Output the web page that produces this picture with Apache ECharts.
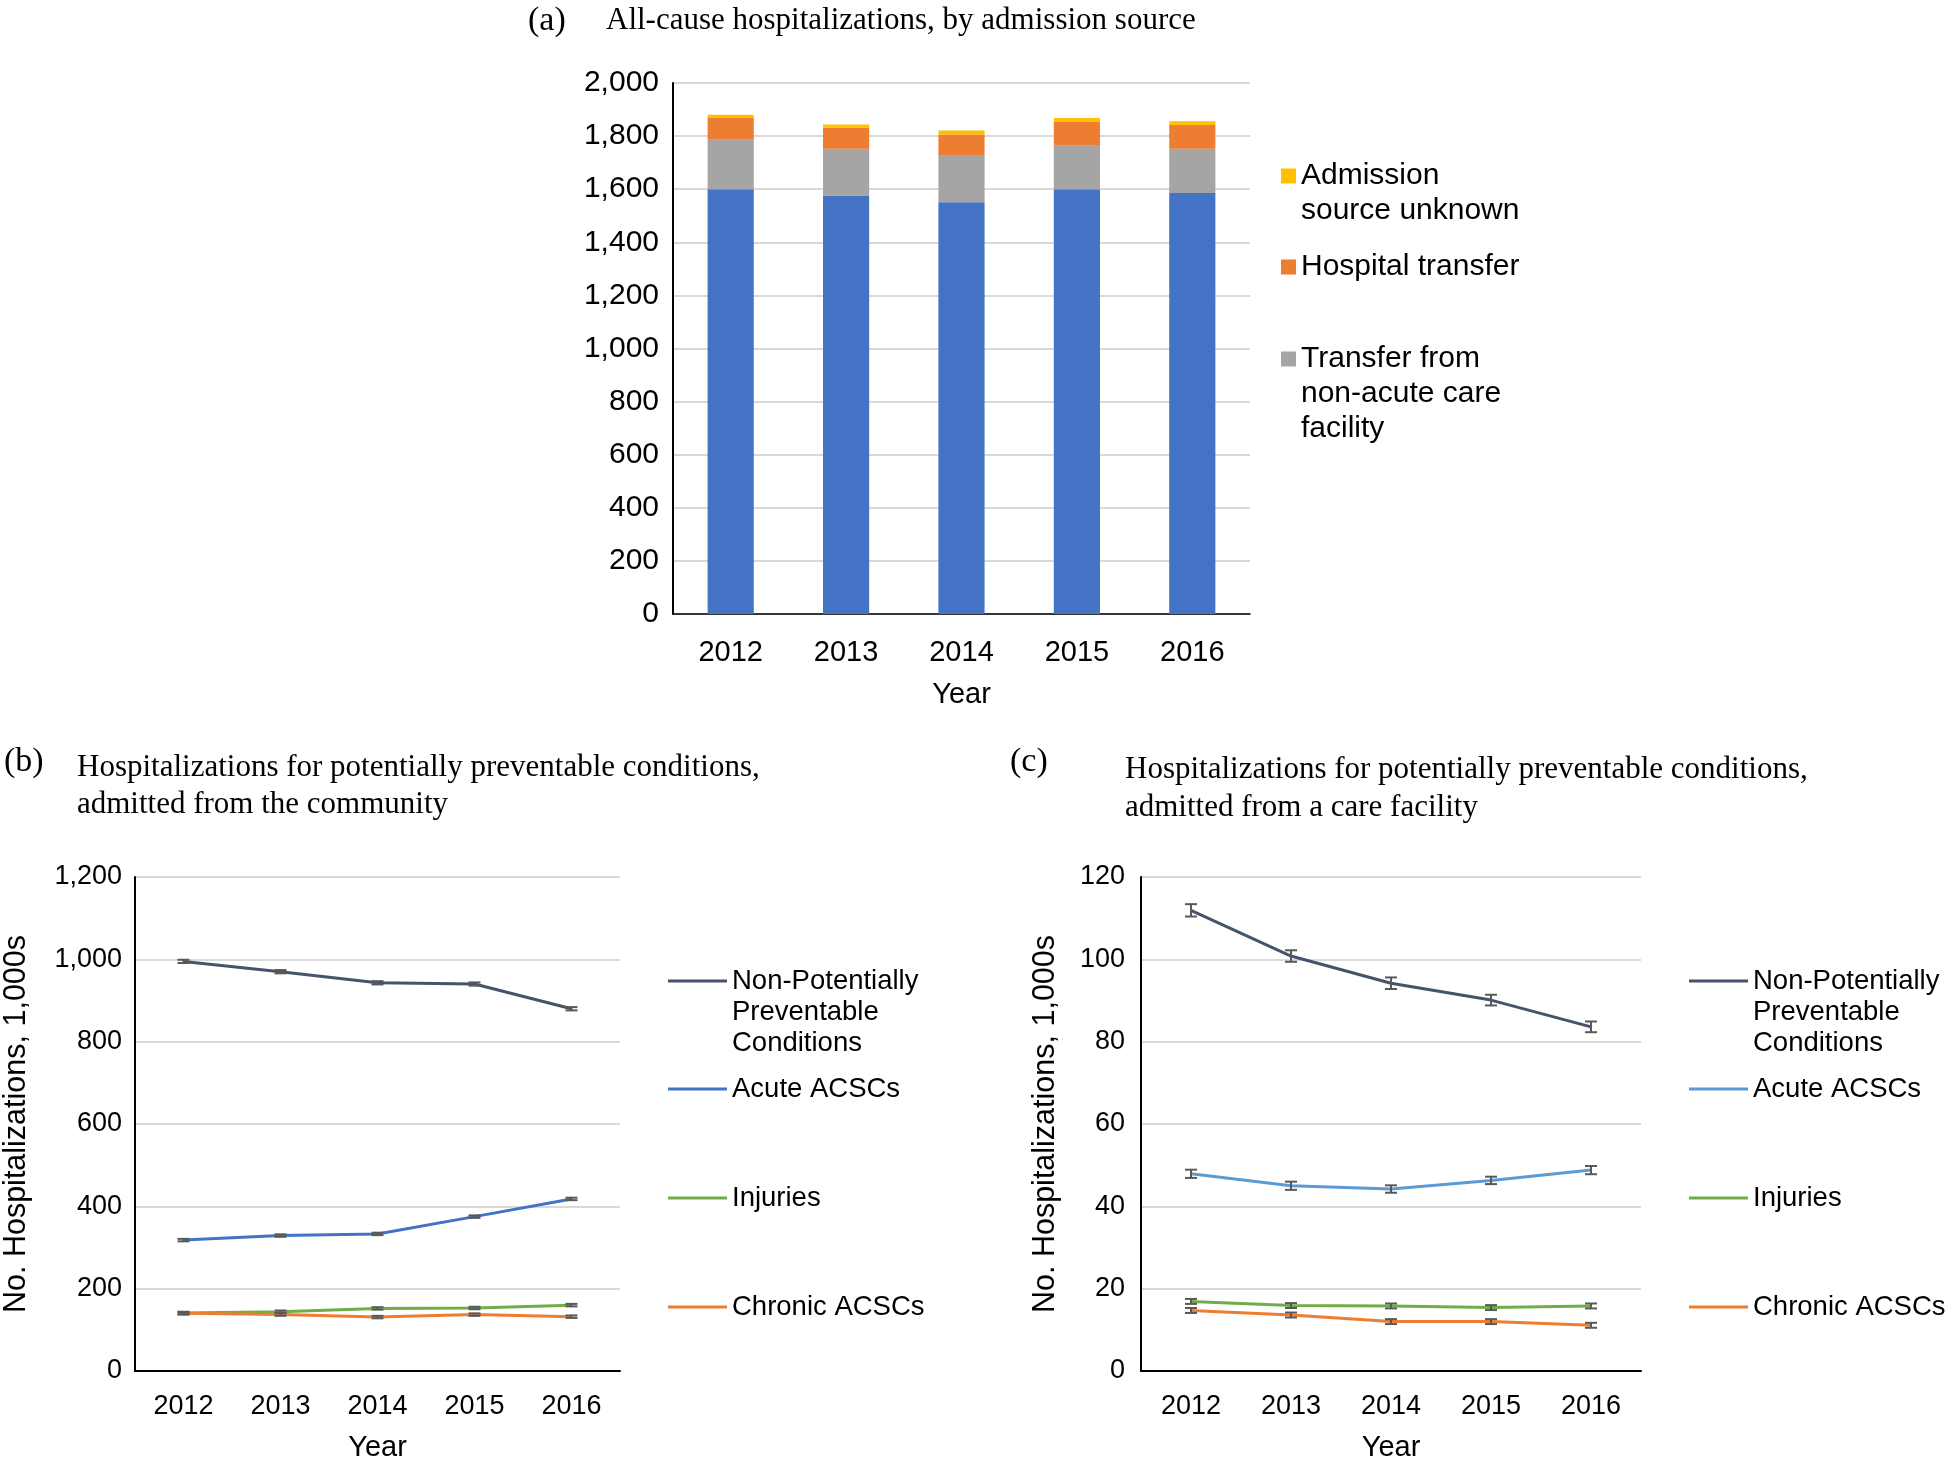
<!DOCTYPE html>
<html>
<head>
<meta charset="utf-8">
<script src="https://cdn.jsdelivr.net/npm/echarts@6/dist/echarts.min.js"></script>
<style>html,body{margin:0;padding:0;background:#fff;}#c{width:1950px;height:1463px;}</style>
</head>
<body>
<div id="c"></div>
<script>
// ---------- data ----------
const years = ['2012', '2013', '2014', '2015', '2016'];

// Panel (a): all-cause hospitalizations by admission source (1,000s)
const aCommunity = [1600, 1576, 1551, 1600, 1586];
const aNonAcute = [186, 176, 178, 164, 166];
const aHospTransfer = [82, 80, 77, 91, 90];
const aUnknown = [12, 12, 15, 13, 14];

// Panel (b): admitted from the community (1,000s)
const bNonPPC = [995, 970, 943, 940, 880];
const bNonPPCErr = [4, 4, 4, 4, 4];
const bAcute = [318, 329, 333, 375, 418];
const bAcuteErr = [3, 3, 3, 3, 3];
const bInjuries = [141, 144, 152, 153, 160];
const bInjuriesErr = [3, 3, 3, 3, 3];
const bChronic = [140, 137, 131, 137, 132];
const bChronicErr = [3, 3, 3, 3, 3];

// Panel (c): admitted from a care facility (1,000s)
const cNonPPC = [111.9, 100.8, 94.2, 90.1, 83.6];
const cNonPPCErr = [1.5, 1.4, 1.4, 1.3, 1.3];
const cAcute = [47.9, 45.0, 44.2, 46.3, 48.8];
const cAcuteErr = [1.0, 1.0, 0.9, 0.9, 1.0];
const cInjuries = [16.9, 15.9, 15.8, 15.4, 15.8];
const cInjuriesErr = [0.6, 0.6, 0.6, 0.6, 0.6];
const cChronic = [14.7, 13.6, 12.0, 12.0, 11.1];
const cChronicErr = [0.6, 0.6, 0.6, 0.6, 0.6];

// ---------- styling ----------
const SANS = 'Liberation Sans, Arial, sans-serif';
const SERIF = 'Liberation Serif, Times New Roman, serif';
const GRID_LINE = '#D9D9D9';
const C_BLUE = '#4472C4', C_GRAY = '#A5A5A5', C_ORANGE = '#ED7D31', C_YELLOW = '#FFC000';
const C_DARK = '#44546A', C_LBLUE = '#5B9BD5', C_GREEN = '#70AD47';
const fmtComma = v => v.toLocaleString('en-US');

function errRender(params, api) {
  const x = api.value(0);
  const p1 = api.coord([x, api.value(1)]);
  const p2 = api.coord([x, api.value(2)]);
  const w = 6;
  const st = { stroke: '#595959', lineWidth: 2 };
  return {
    type: 'group',
    children: [
      { type: 'line', shape: { x1: p1[0], y1: p1[1], x2: p2[0], y2: p2[1] }, style: st },
      { type: 'line', shape: { x1: p1[0] - w, y1: p1[1], x2: p1[0] + w, y2: p1[1] }, style: st },
      { type: 'line', shape: { x1: p2[0] - w, y1: p2[1], x2: p2[0] + w, y2: p2[1] }, style: st }
    ]
  };
}
function errData(v, e) { return v.map((val, i) => [i, val - e[i], val + e[i]]); }

function lineSeries(name, data, color, axisIdx) {
  return {
    name: name, type: 'line', data: data, xAxisIndex: axisIdx, yAxisIndex: axisIdx,
    showSymbol: false, symbol: 'none', z: 3,
    lineStyle: { color: color, width: 3 }, itemStyle: { color: color }
  };
}
function errSeries(v, e, axisIdx) {
  return {
    type: 'custom', renderItem: errRender, data: errData(v, e),
    xAxisIndex: axisIdx, yAxisIndex: axisIdx, encode: { x: 0, y: [1, 2] }, z: 5, silent: true
  };
}
function barSeries(name, data, color) {
  return {
    name: name, type: 'bar', stack: 'a', data: data, xAxisIndex: 0, yAxisIndex: 0,
    barWidth: '40%', itemStyle: { color: color }
  };
}
const stripName = n => n.split('|')[1];

function legendItem(name, left, top, fs, lh, icon, iw, ih) {
  return {
    data: [name], left: left, top: top, orient: 'vertical', padding: 0,
    icon: icon, itemWidth: iw, itemHeight: ih, selectedMode: false,
    formatter: stripName,
    textStyle: { fontFamily: SANS, fontSize: fs, lineHeight: lh, color: '#000' }
  };
}

const chart = echarts.init(document.getElementById('c'), null, { renderer: 'canvas' });
const option = {
  backgroundColor: '#fff',
  animation: false,
  title: [
    { text: '(a)', left: 528, top: 1, padding: 0, textStyle: { fontFamily: SERIF, fontSize: 34, lineHeight: 40, fontWeight: 'normal', color: '#000' } },
    { text: 'All-cause hospitalizations, by admission source', left: 606, top: 2, padding: 0, textStyle: { fontFamily: SERIF, fontSize: 31, lineHeight: 37, fontWeight: 'normal', color: '#000' } },
    { text: '(b)', left: 4, top: 742, padding: 0, textStyle: { fontFamily: SERIF, fontSize: 34, lineHeight: 40, fontWeight: 'normal', color: '#000' } },
    { text: 'Hospitalizations for potentially preventable conditions,\nadmitted from the community', left: 77, top: 749, padding: 0, textStyle: { fontFamily: SERIF, fontSize: 31, lineHeight: 37, fontWeight: 'normal', color: '#000' } },
    { text: '(c)', left: 1010, top: 742, padding: 0, textStyle: { fontFamily: SERIF, fontSize: 34, lineHeight: 40, fontWeight: 'normal', color: '#000' } },
    { text: 'Hospitalizations for potentially preventable conditions,\nadmitted from a care facility', left: 1125, top: 751, padding: 0, textStyle: { fontFamily: SERIF, fontSize: 31, lineHeight: 38, fontWeight: 'normal', color: '#000' } }
  ],
  grid: [
    { left: 673, top: 83, width: 577, height: 531 },
    { left: 134, top: 877, width: 486, height: 495 },
    { left: 1141, top: 877, width: 500, height: 495 }
  ],
  xAxis: [
    {
      gridIndex: 0, type: 'category', data: years, boundaryGap: true,
      name: 'Year', nameLocation: 'middle', nameGap: 66,
      nameTextStyle: { fontFamily: SANS, fontSize: 29, color: '#000' },
      axisLine: { lineStyle: { color: '#000', width: 1.5 } }, axisTick: { show: false },
      axisLabel: { fontFamily: SANS, fontSize: 29, color: '#000', margin: 24 }
    },
    {
      gridIndex: 1, type: 'category', data: years, boundaryGap: true,
      name: 'Year', nameLocation: 'middle', nameGap: 62,
      nameTextStyle: { fontFamily: SANS, fontSize: 29, color: '#000' },
      axisLine: { lineStyle: { color: '#000', width: 2 } }, axisTick: { show: false },
      axisLabel: { fontFamily: SANS, fontSize: 27, color: '#000', margin: 22 }
    },
    {
      gridIndex: 2, type: 'category', data: years, boundaryGap: true,
      name: 'Year', nameLocation: 'middle', nameGap: 62,
      nameTextStyle: { fontFamily: SANS, fontSize: 29, color: '#000' },
      axisLine: { lineStyle: { color: '#000', width: 2 } }, axisTick: { show: false },
      axisLabel: { fontFamily: SANS, fontSize: 27, color: '#000', margin: 22 }
    }
  ],
  yAxis: [
    {
      gridIndex: 0, type: 'value', min: 0, max: 2000, interval: 200,
      axisLine: { show: true, lineStyle: { color: '#000', width: 2 } }, axisTick: { show: false },
      splitLine: { lineStyle: { color: GRID_LINE, width: 2 } },
      axisLabel: { fontFamily: SANS, fontSize: 30, color: '#000', margin: 14, formatter: fmtComma }
    },
    {
      gridIndex: 1, type: 'value', min: 0, max: 1200, interval: 200,
      name: 'No. Hospitalizations, 1,000s', nameLocation: 'middle', nameGap: 103,
      nameTextStyle: { fontFamily: SANS, fontSize: 30.5, color: '#000' },
      axisLine: { show: true, lineStyle: { color: '#000', width: 2 } }, axisTick: { show: false },
      splitLine: { lineStyle: { color: GRID_LINE, width: 2 } },
      axisLabel: { fontFamily: SANS, fontSize: 27, color: '#000', margin: 13, formatter: fmtComma }
    },
    {
      gridIndex: 2, type: 'value', min: 0, max: 120, interval: 20,
      name: 'No. Hospitalizations, 1,000s', nameLocation: 'middle', nameGap: 80,
      nameTextStyle: { fontFamily: SANS, fontSize: 30.5, color: '#000' },
      axisLine: { show: true, lineStyle: { color: '#000', width: 2 } }, axisTick: { show: false },
      splitLine: { lineStyle: { color: GRID_LINE, width: 2 } },
      axisLabel: { fontFamily: SANS, fontSize: 27, color: '#000', margin: 16 }
    }
  ],
  legend: [
    legendItem('a|\nAdmission\nsource unknown', 1281, 123.5, 30, 35, 'rect', 15, 15),
    legendItem('a|Hospital transfer', 1281, 249.5, 30, 35, 'rect', 15, 15),
    legendItem('a|\n\nTransfer from\nnon-acute care\nfacility', 1281, 271.5, 30, 35, 'rect', 15, 15),
    legendItem('b|\n\nNon-Potentially\nPreventable\nConditions', 668, 903.5, 27.5, 31, 'rect', 59, 3),
    legendItem('b|Acute ACSCs', 668, 1073.5, 27.5, 31, 'rect', 59, 3),
    legendItem('b|Injuries', 668, 1182.5, 27.5, 31, 'rect', 59, 3),
    legendItem('b|Chronic ACSCs', 668, 1291.5, 27.5, 31, 'rect', 59, 3),
    legendItem('c|\n\nNon-Potentially\nPreventable\nConditions', 1689, 903.5, 27.5, 31, 'rect', 59, 3),
    legendItem('c|Acute ACSCs', 1689, 1073.5, 27.5, 31, 'rect', 59, 3),
    legendItem('c|Injuries', 1689, 1182.5, 27.5, 31, 'rect', 59, 3),
    legendItem('c|Chronic ACSCs', 1689, 1291.5, 27.5, 31, 'rect', 59, 3)
  ],
  series: [
    barSeries('a|Community', aCommunity, C_BLUE),
    barSeries('a|\n\nTransfer from\nnon-acute care\nfacility', aNonAcute, C_GRAY),
    barSeries('a|Hospital transfer', aHospTransfer, C_ORANGE),
    barSeries('a|\nAdmission\nsource unknown', aUnknown, C_YELLOW),

    lineSeries('b|\n\nNon-Potentially\nPreventable\nConditions', bNonPPC, C_DARK, 1),
    lineSeries('b|Acute ACSCs', bAcute, C_BLUE, 1),
    lineSeries('b|Injuries', bInjuries, C_GREEN, 1),
    lineSeries('b|Chronic ACSCs', bChronic, C_ORANGE, 1),
    errSeries(bNonPPC, bNonPPCErr, 1),
    errSeries(bAcute, bAcuteErr, 1),
    errSeries(bInjuries, bInjuriesErr, 1),
    errSeries(bChronic, bChronicErr, 1),

    lineSeries('c|\n\nNon-Potentially\nPreventable\nConditions', cNonPPC, C_DARK, 2),
    lineSeries('c|Acute ACSCs', cAcute, C_LBLUE, 2),
    lineSeries('c|Injuries', cInjuries, C_GREEN, 2),
    lineSeries('c|Chronic ACSCs', cChronic, C_ORANGE, 2),
    errSeries(cNonPPC, cNonPPCErr, 2),
    errSeries(cAcute, cAcuteErr, 2),
    errSeries(cInjuries, cInjuriesErr, 2),
    errSeries(cChronic, cChronicErr, 2)
  ]
};
chart.setOption(option);
</script>
</body>
</html>
